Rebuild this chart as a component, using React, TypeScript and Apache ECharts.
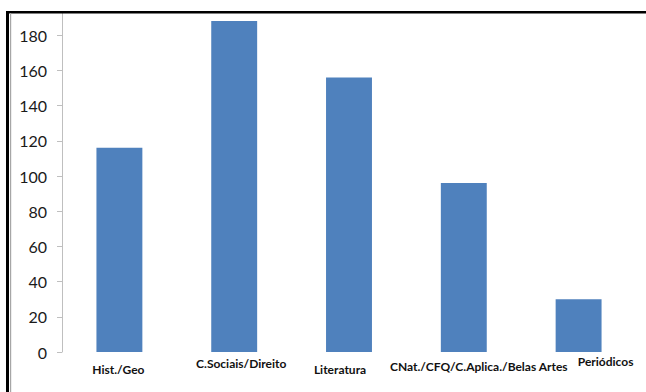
import React, { useEffect, useRef } from "react";
import * as echarts from "echarts";

// Acervo por área
const categories = [
  "Hist./Geo",
  "C.Sociais/Direito",
  "Literatura",
  "CNat./CFQ/C.Aplica./Belas Artes",
  "Periódicos",
];
const values = [116, 188, 156, 96, 30];

// Per-label nudges [dx, dy] for the staggered category labels
const labelNudge: [number, number][] = [
  [-1, 8],
  [7, 2],
  [-9, 8],
  [15, 5],
  [27, 0],
];

const W = 646;
const H = 392;
const FONT = "Lato, 'Liberation Sans', sans-serif";

export default function App() {
  const ref = useRef<HTMLDivElement>(null);

  useEffect(() => {
    if (!ref.current) return;
    const chart = echarts.init(ref.current, null, { renderer: "svg" });

    const rich: Record<string, any> = {};
    labelNudge.forEach(([dx, dy], i) => {
      rich["c" + i] = {
        fontFamily: FONT,
        fontWeight: "bold",
        fontSize: 12,
        color: "#111",
        padding: [dy, dx < 0 ? -2 * dx : 0, 0, dx > 0 ? 2 * dx : 0],
      };
    });

    chart.setOption({
      animation: false,
      backgroundColor: "#ffffff",
      grid: { left: 62, right: 10, top: -4, bottom: 40, containLabel: false },
      xAxis: {
        type: "category",
        data: categories,
        axisLine: { show: false },
        axisTick: { show: false },
        axisLabel: {
          interval: 0,
          margin: 3,
          formatter: (v: string, i: number) => `{c${i}|${v}}`,
          rich,
        },
      },
      yAxis: {
        type: "value",
        min: 0,
        max: 200,
        interval: 20,
        splitLine: { show: false },
        axisLine: { show: true, lineStyle: { color: "#bfbfbf", width: 1 } },
        axisTick: { show: true, length: 5, lineStyle: { color: "#bfbfbf" } },
        axisLabel: {
          margin: 15,
          showMaxLabel: false,
          fontFamily: FONT,
          fontSize: 16,
          color: "#1a1a1a",
        },
      },
      series: [
        {
          type: "bar",
          data: values,
          barCategoryGap: "60%",
          itemStyle: { color: "#4f81bd" },
        },
      ],
      graphic: [
        // white cover above the frame
        {
          type: "rect",
          shape: { x: 0, y: 0, width: W, height: 11 },
          style: { fill: "#ffffff" },
          z: 100,
        },
        // frame: top rule
        {
          type: "rect",
          shape: { x: 6, y: 11, width: W - 6, height: 2.5 },
          style: { fill: "#000000" },
          z: 101,
        },
        // frame: left rule (thick black + thin gray)
        {
          type: "rect",
          shape: { x: 6, y: 11, width: 3, height: H - 11 },
          style: { fill: "#000000" },
          z: 101,
        },
        {
          type: "rect",
          shape: { x: 10, y: 13, width: 1.2, height: H - 13 },
          style: { fill: "#a6a6a6" },
          z: 101,
        },
      ],
    });

    return () => chart.dispose();
  }, []);

  return (
    <div style={{ position: "fixed", left: 0, top: 0, width: W, height: H, background: "#fff" }}>
      <div ref={ref} style={{ width: W, height: H }} />
    </div>
  );
}
